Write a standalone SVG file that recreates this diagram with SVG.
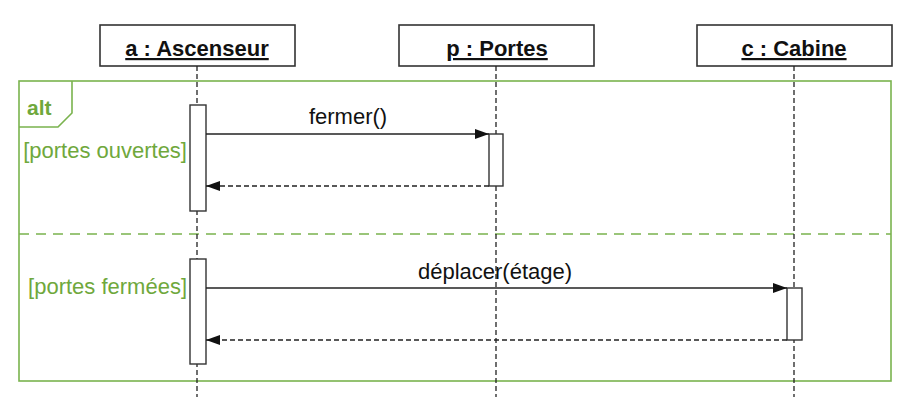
<svg xmlns="http://www.w3.org/2000/svg" width="915" height="418" viewBox="0 0 915 418">
<style>
.obj{fill:#fff;stroke:#333;stroke-width:1.6}
.objt{font-family:"Liberation Sans",Arial,sans-serif;font-weight:bold;font-size:22px;fill:#111;text-anchor:middle;text-decoration:underline}
.life{stroke:#222;stroke-width:1.3;stroke-dasharray:5,3;fill:none}
.act{fill:#fff;stroke:#333;stroke-width:1.4}
.msg{stroke:#222;stroke-width:1.4;fill:none}
.ret{stroke:#222;stroke-width:1.3;stroke-dasharray:5,3;fill:none}
.lbl{font-family:"Liberation Sans",Arial,sans-serif;font-size:22px;fill:#111;text-anchor:middle}
.frame{fill:none;stroke:#7ab34e;stroke-width:1.6}
.guard{font-family:"Liberation Sans",Arial,sans-serif;font-size:22px;fill:#6fa83c;text-anchor:end}
</style>
<defs>
<marker id="ah" viewBox="0 0 14 10" refX="14" refY="5" markerWidth="14" markerHeight="10" markerUnits="userSpaceOnUse" orient="auto">
<path d="M0,0 L14,5 L0,10 Z" fill="#111"/>
</marker>
</defs>
<rect width="915" height="418" fill="#fff"/>
<g id="frame-alt">
<rect class="frame" x="19" y="81" width="872" height="300"/>
<path class="frame" d="M19,127 L58,127 L72,113 L72,81"/>
<text x="27" y="115" style="font-family:'Liberation Sans',Arial,sans-serif;font-weight:bold;font-size:21px;fill:#6fa83c">alt</text>
<line x1="19" y1="234" x2="891" y2="234" stroke="#7ab34e" stroke-width="1.6" stroke-dasharray="10,7"/>
<text class="guard" x="187" y="158">[portes ouvertes]</text>
<text class="guard" x="187" y="294">[portes fermées]</text>
</g>
<g id="node-a">
<rect class="obj" x="100" y="25" width="195" height="41"/>
<text class="objt" x="197" y="56">a : Ascenseur</text>
<line class="life" x1="197" y1="66" x2="197" y2="397"/>
</g>
<g id="node-p">
<rect class="obj" x="399" y="25" width="195" height="41"/>
<text class="objt" x="497" y="56">p : Portes</text>
<line class="life" x1="496" y1="66" x2="496" y2="397"/>
</g>
<g id="node-c">
<rect class="obj" x="697" y="25" width="195" height="41"/>
<text class="objt" x="794" y="56">c : Cabine</text>
<line class="life" x1="794" y1="66" x2="794" y2="397"/>
</g>
<g id="activations">
<rect class="act" x="190" y="105" width="16" height="106"/>
<rect class="act" x="489" y="134" width="14" height="52"/>
<rect class="act" x="190" y="259" width="16" height="105"/>
<rect class="act" x="787" y="288" width="15" height="52"/>
</g>
<g id="connectors">
<line class="msg" x1="206" y1="134" x2="489" y2="134" marker-end="url(#ah)"/>
<text class="lbl" x="348" y="124">fermer()</text>
<line class="ret" x1="489" y1="186" x2="206" y2="186" marker-end="url(#ah)"/>
<line class="msg" x1="206" y1="288" x2="787" y2="288" marker-end="url(#ah)"/>
<text class="lbl" x="495" y="279">déplacer(étage)</text>
<line class="ret" x1="787" y1="340" x2="206" y2="340" marker-end="url(#ah)"/>
</g>
</svg>
